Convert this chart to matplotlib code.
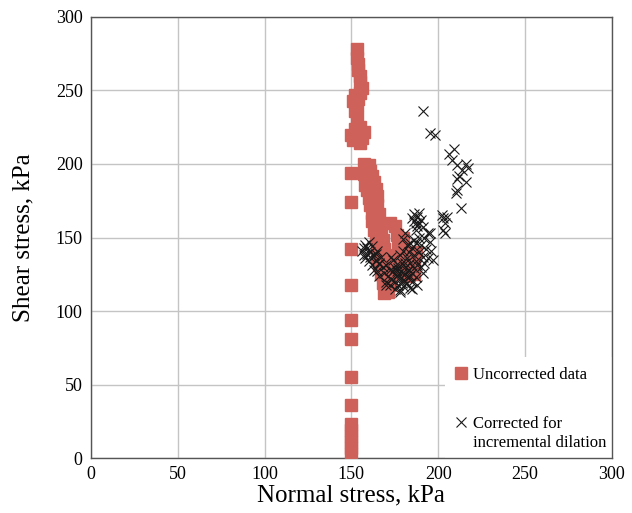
#!/usr/bin/env python3
"""Shear stress vs normal stress: uncorrected data and data corrected for incremental dilation."""
import matplotlib
matplotlib.use("Agg")
import matplotlib.pyplot as plt

plt.rcParams["font.family"] = ["Liberation Serif", "DejaVu Serif"]

RED = "#CE615A"

# uncorrected data (normal stress, shear stress) in kPa
unc_x = [150, 150, 150, 150, 150, 150, 150, 150, 150, 150, 150, 150, 150, 150,
         153, 153, 154, 154, 155, 155, 156, 155, 154, 153, 152, 153, 151, 152,
         150, 151, 152, 155, 157, 156, 155,
         157, 158, 160, 161, 157, 159, 162, 158, 161, 163, 159, 162, 164, 160, 163, 165,
         161, 163, 165, 162, 164, 166, 162, 164, 166, 163, 165, 167, 164, 166, 168,
         165, 167, 169, 165, 167, 169, 166, 168, 170, 167, 169, 171, 168, 170, 169, 171,
         172, 173, 174, 175, 176, 177, 178, 180, 176, 175, 172,
         178, 180, 182, 184, 186, 187, 186, 183, 181, 179]
unc_y = [3, 7, 11, 15, 19, 23, 36, 55, 81, 94, 118, 142, 174, 194,
         278, 272, 268, 264, 260, 256, 252, 248, 244, 240, 236, 232, 243, 247,
         220, 216, 224, 225, 222, 218, 214,
         200, 197, 199, 195, 193, 190, 192, 186, 185, 188, 182, 180, 183, 177, 175, 178,
         172, 170, 172, 167, 164, 166, 161, 158, 160, 155, 152, 154, 149, 146, 148,
         143, 140, 142, 137, 134, 136, 131, 128, 130, 125, 122, 124, 119, 116, 112, 113,
         118, 123, 128, 133, 138, 143, 148, 150, 152, 158, 160,
         130, 127, 124, 128, 133, 140, 125, 135, 140, 145]

# corrected for incremental dilation
cor_x = [156, 158, 157, 159, 160, 158, 161, 162, 160, 163, 162, 164, 165, 163, 166, 165,
         167, 168, 166, 169, 161, 159, 157, 164,
         170, 171, 172, 173, 174, 175, 175, 176, 177, 177, 178, 178, 179, 179, 180, 180,
         181, 181, 182, 182, 183, 183, 184, 184, 185, 185, 186, 186, 187, 187, 188, 188,
         176, 174, 172, 170, 173, 178, 180, 176, 182, 184, 179, 177, 181, 175, 183, 185,
         189, 190, 191, 192, 193, 194, 195, 196, 197, 190, 192, 194, 191, 189, 187, 186,
         184, 182, 180, 181,
         185, 186, 187, 188, 189, 188, 190, 187, 186, 189, 191,
         185, 178, 170, 166,
         191, 195, 198, 203, 205, 204, 203, 204, 202, 209, 206, 208, 211, 216, 214, 217,
         212, 216, 211, 211, 210, 213, 195]
cor_y = [141, 145, 138, 143, 147, 136, 140, 144, 134, 138, 131, 135, 141, 128, 133, 127,
         137, 130, 124, 126, 137, 139, 143, 139,
         120, 124, 118, 122, 127, 115, 120, 124, 118, 129, 114, 122, 126, 133, 117, 121,
         125, 130, 119, 136, 123, 128, 116, 133, 120, 126, 129, 138, 123, 134, 118, 131,
         132, 135, 128, 131, 137, 138, 141, 127, 127, 124, 119, 125, 133, 129, 140, 143,
         140, 145, 137, 150, 142, 153, 147, 141, 135, 130, 133, 136, 126, 150, 146, 148,
         146, 145, 149, 153,
         163, 166, 160, 164, 167, 158, 162, 155, 161, 160, 157,
         115, 113, 118, 132,
         236, 221, 220, 163, 164, 160, 155, 153, 165, 210, 207, 203, 199, 200, 196, 197,
         192, 188, 190, 182, 180, 170, 153]

x_ticks = [0, 50, 100, 150, 200, 250, 300]
y_ticks = [0, 50, 100, 150, 200, 250, 300]

fig = plt.figure(figsize=(6.32, 5.13), dpi=100)
ax = fig.add_axes([0.144, 0.107, 0.824, 0.860])

ax.plot(unc_x, unc_y, ls="none", marker="s", ms=8.4, color=RED, mec=RED,
        label="Uncorrected data", zorder=3)
ax.plot(cor_x, cor_y, ls="none", marker="x", ms=6.5, mew=0.8, color="#1a1a1a",
        label="Corrected for\nincremental dilation", zorder=4)

ax.set_xlim(0, 300); ax.set_ylim(0, 300)
ax.set_xticks(x_ticks); ax.set_yticks(y_ticks)
ax.grid(color="#c4c4c4", lw=1.0)
ax.set_axisbelow(True)
ax.tick_params(length=0, labelsize=13, pad=6)
for s in ax.spines.values():
    s.set_color("#555555"); s.set_linewidth(1.0)

ax.set_xlabel("Normal stress, kPa", fontsize=18, labelpad=1)
ax.set_ylabel("Shear stress, kPa", fontsize=18, labelpad=15)

leg = ax.legend(loc="upper left", bbox_to_anchor=(0.68, 0.229), borderaxespad=0,
                fontsize=12, frameon=True, facecolor="white", edgecolor="none",
                framealpha=1, fancybox=False, handlelength=0.7, handletextpad=0.4,
                labelspacing=2.0, borderpad=0.6)
leg.set_zorder(2.4)  # keep the axes frame visible over the legend box
# put the cross next to the first line of its two-line label
h = leg.legend_handles[1]
h.set_ydata([v + 8.5 for v in h.get_ydata()])

fig.savefig("out.png", dpi=100)
